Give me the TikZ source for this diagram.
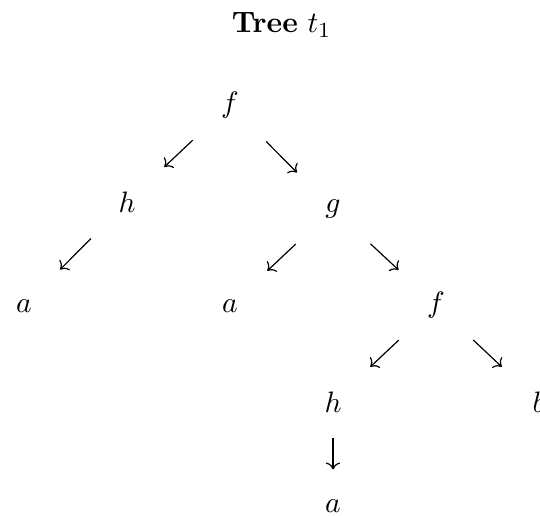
\documentclass[tikz,border=0pt]{standalone}
\usepackage{amsmath}
\usetikzlibrary{arrows.meta}

\begin{document}
\begin{tikzpicture}[x=1.342cm,y=1.302cm,font=\fontsize{10.95}{13.6}\selectfont,
    term/.style={anchor=base,inner sep=1pt},
    branch/.style={-{Computer Modern Rightarrow},line width=0.44pt,shorten <=19pt,shorten >=19pt},
    stem/.style={-{Computer Modern Rightarrow},line width=0.44pt,shorten <=13.5pt,shorten >=13.5pt}]
    \useasboundingbox (-0.233,-4.034) rectangle (5.009,1.125);

    \node[anchor=base] (title) at (2.5,0.795) {\textbf{Tree} $t_1$};

    % terms of the tree
    \node[term] (f1) at (2,0) {$f$};
    \node[term] (h1) at (1,-1) {$h$};
    \node[term] (g1) at (3,-1) {$g$};
    \node[term] (a1) at (0,-2) {$a$};
    \node[term] (a2) at (2,-2) {$a$};
    \node[term] (f2) at (4,-2) {$f$};
    \node[term] (h2) at (3,-3) {$h$};
    \node[term] (b1) at (5,-3) {$b$};
    \node[term] (a3) at (3,-4) {$a$};

    % arrows from parent to child
    \draw[branch] (f1.center) -- (h1.center);
    \draw[branch] (f1.center) -- (g1.center);
    \draw[branch] (h1.center) -- (a1.center);
    \draw[branch] (g1.center) -- (a2.center);
    \draw[branch] (g1.center) -- (f2.center);
    \draw[branch] (f2.center) -- (h2.center);
    \draw[branch] (f2.center) -- (b1.center);
    \draw[stem] (h2.center) -- (a3.center);
\end{tikzpicture}
\end{document}
